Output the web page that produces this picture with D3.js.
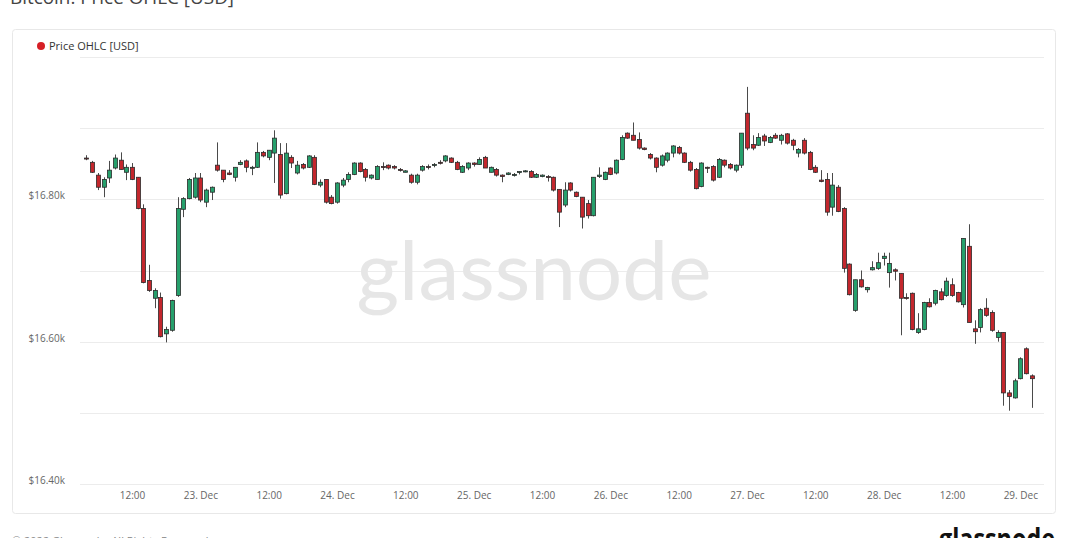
<!DOCTYPE html>
<html>
<head>
<meta charset="utf-8">
<script src="https://cdn.jsdelivr.net/npm/d3@7"></script>
<style>
  html, body { margin: 0; padding: 0; background: #ffffff; }
  svg { display: block; font-family: "Open Sans", "Noto Sans", "DejaVu Sans", sans-serif; }
</style>
</head>
<body>
<svg id="chart" width="1080" height="538"></svg>
<script>
// ---- DATA (hourly candles, 22 Dec 04:00 UTC -> 29 Dec 02:00 UTC) ----
const firstCandle = "2022-12-22T04:00:00Z";
const open = [
  16858,16852,16834,16817,16830,16844,16855,16838,16845,16831,
  16787,16686,16661,16662,16611,16616,16665,16786,16801,16803,
  16830,16796,16810,16848,16841,16837,16831,16849,16854,16844,
  16845,16866,16859,16865,16863,16808,16859,16837,16849,16845,
  16859,16820,16828,16803,16796,16820,16828,16835,16851,16842,
  16830,16828,16846,16848,16846,16842,16838,16834,16824,16841,
  16846,16848,16852,16854,16858,16852,16838,16844,16851,16849,
  16859,16838,16842,16834,16835,16834,16838,16839,16839,16831,
  16832,16832,16831,16814,16792,16823,16810,16803,16794,16777,
  16832,16828,16844,16837,16856,16893,16890,16884,16872,16863,
  16858,16848,16855,16865,16873,16865,16852,16842,16818,16845,
  16846,16831,16855,16849,16841,16848,16921,16877,16876,16889,
  16880,16890,16883,16892,16883,16865,16883,16866,16845,16827,
  16828,16789,16817,16787,16709,16644,16687,16673,16701,16703,
  16717,16697,16701,16696,16662,16668,16613,16617,16655,16654,
  16670,16665,16680,16669,16652,16734,16618,16620,16647,16641,
  16606,16613,16528,16521,16548,16590,16552
];
const high = [
  16862,16854,16837,16831,16854,16863,16866,16849,16851,16831,
  16793,16708,16675,16669,16621,16659,16803,16803,16830,16837,
  16837,16815,16818,16880,16841,16841,16845,16855,16856,16847,
  16880,16868,16869,16897,16879,16879,16862,16854,16851,16862,
  16862,16828,16828,16806,16824,16830,16838,16852,16852,16844,
  16835,16848,16852,16849,16848,16844,16841,16836,16836,16848,
  16849,16851,16855,16862,16859,16854,16848,16852,16852,16859,
  16861,16846,16844,16835,16838,16837,16839,16841,16841,16837,
  16835,16834,16832,16814,16824,16824,16811,16803,16799,16831,
  16845,16839,16845,16856,16890,16894,16908,16894,16873,16865,
  16859,16863,16866,16876,16875,16866,16854,16844,16852,16846,
  16848,16858,16856,16851,16849,16893,16958,16890,16893,16892,
  16889,16893,16892,16893,16885,16872,16886,16868,16848,16841,
  16837,16837,16820,16789,16710,16687,16700,16677,16713,16725,
  16725,16725,16703,16696,16668,16669,16640,16656,16661,16673,
  16675,16690,16689,16670,16745,16765,16630,16647,16661,16644,
  16616,16613,16532,16548,16578,16592,16554
];
const low = [
  16855,16837,16813,16803,16823,16842,16842,16827,16827,16786,
  16682,16670,16647,16606,16599,16614,16663,16775,16800,16801,
  16796,16789,16799,16839,16824,16834,16825,16848,16838,16834,
  16844,16859,16855,16823,16801,16807,16844,16835,16842,16844,
  16820,16817,16794,16793,16794,16817,16824,16834,16838,16825,
  16828,16828,16841,16842,16842,16839,16838,16822,16821,16839,
  16842,16845,16849,16852,16851,16841,16837,16841,16846,16849,
  16844,16838,16832,16824,16834,16832,16835,16838,16830,16830,
  16831,16825,16811,16761,16789,16811,16803,16759,16773,16776,
  16830,16827,16834,16835,16855,16885,16883,16870,16869,16856,
  16838,16846,16852,16859,16863,16851,16839,16814,16817,16837,
  16825,16830,16845,16842,16838,16844,16869,16869,16875,16875,
  16879,16885,16877,16877,16869,16859,16863,16841,16837,16824,
  16777,16777,16782,16697,16665,16642,16676,16669,16700,16701,
  16707,16676,16686,16609,16659,16616,16611,16616,16648,16651,
  16658,16663,16663,16655,16648,16627,16597,16613,16635,16614,
  16600,16510,16503,16520,16547,16554,16507
];
const close = [
  16857,16838,16817,16828,16841,16858,16842,16845,16828,16787,
  16683,16672,16672,16607,16617,16658,16787,16801,16828,16830,
  16799,16813,16817,16841,16828,16835,16845,16852,16845,16845,
  16866,16861,16869,16886,16806,16865,16851,16848,16844,16861,
  16821,16824,16796,16794,16823,16827,16835,16851,16839,16831,
  16834,16846,16845,16844,16844,16841,16840,16824,16834,16846,
  16845,16849,16851,16861,16852,16842,16846,16851,16849,16856,
  16844,16845,16834,16832,16837,16835,16839,16840,16831,16835,
  16834,16831,16813,16782,16813,16813,16804,16775,16777,16831,
  16834,16838,16835,16855,16887,16886,16883,16872,16870,16858,
  16845,16861,16865,16875,16865,16852,16841,16815,16851,16844,
  16827,16856,16848,16844,16848,16893,16872,16872,16887,16882,
  16887,16886,16890,16879,16876,16870,16865,16842,16838,16825,
  16782,16820,16783,16703,16666,16687,16677,16676,16704,16711,
  16720,16710,16699,16661,16661,16617,16618,16655,16649,16672,
  16659,16685,16665,16656,16745,16627,16614,16645,16637,16616,
  16613,16528,16523,16545,16576,16555,16548
];
const xTickTimes = [
  "2022-12-22T12:00:00Z","2022-12-23T00:00:00Z","2022-12-23T12:00:00Z","2022-12-24T00:00:00Z",
  "2022-12-24T12:00:00Z","2022-12-25T00:00:00Z","2022-12-25T12:00:00Z","2022-12-26T00:00:00Z",
  "2022-12-26T12:00:00Z","2022-12-27T00:00:00Z","2022-12-27T12:00:00Z","2022-12-28T00:00:00Z",
  "2022-12-28T12:00:00Z","2022-12-29T00:00:00Z"
];
const xTickLabels = ["12:00","23. Dec","12:00","24. Dec","12:00","25. Dec","12:00","26. Dec",
  "12:00","27. Dec","12:00","28. Dec","12:00","29. Dec"];
const yGridValues = [16400,16500,16600,16700,16800,16900,17000];
const yLabelValues = [16400,16600,16800];
const yLabelTexts = ["$16.40k","$16.60k","$16.80k"];

// ---- BUILD ----
const HOUR = 3600 * 1000;
const t0 = new Date(firstCandle).getTime();
const candles = open.map((o, i) => ({
  date: new Date(t0 + i * HOUR), o, h: high[i], l: low[i], c: close[i]
}));

const svg = d3.select("#chart");
const plotLeft = 80, plotRight = 1044;

// card
svg.append("rect").attr("x", 12.5).attr("y", 29.5).attr("width", 1043).attr("height", 484)
  .attr("rx", 3).attr("fill", "#fff").attr("stroke", "#e8e8e8");

// title (cut at the top, as in the source image)
svg.append("text").attr("x", 10).attr("y", 4).attr("font-size", 19).attr("fill", "#444")
  .attr("textLength", 224).attr("lengthAdjust", "spacingAndGlyphs")
  .text("Bitcoin: Price OHLC [USD]");

// scales
const x = d3.scaleUtc()
  .domain([new Date("2022-12-22T00:00:00Z"), new Date("2022-12-29T00:00:00Z")])
  .range([63.7, 1020.3]);
const y = d3.scaleLinear().domain([16400, 17000]).range([484, 57]);

// gridlines
svg.append("g").selectAll("line").data(yGridValues).join("line")
  .attr("x1", plotLeft).attr("x2", plotRight)
  .attr("y1", d => Math.round(y(d)) + 0.5).attr("y2", d => Math.round(y(d)) + 0.5)
  .attr("stroke", "#ececec").attr("stroke-width", 1);

// watermark
svg.append("text").attr("x", 534).attr("y", 300).attr("text-anchor", "middle")
  .attr("font-size", 82).attr("fill", "#e6e6e6")
  .attr("font-family", "Lato, 'Open Sans', sans-serif")
  .attr("textLength", 355).attr("lengthAdjust", "spacingAndGlyphs")
  .text("glassnode");

// y axis labels
const yAxis = d3.axisLeft(y).tickValues(yLabelValues)
  .tickFormat((d, i) => yLabelTexts[i]).tickSize(0).tickPadding(0);
const gy = svg.append("g").attr("transform", "translate(65,0)").call(yAxis);
gy.select(".domain").remove();
gy.selectAll("text").attr("font-size", 10).attr("fill", "#666")
  .attr("font-family", "'Open Sans', sans-serif").attr("dy", "-0.05em");

// x axis labels
const xAxis = d3.axisBottom(x).tickValues(xTickTimes.map(s => new Date(s)))
  .tickFormat((d, i) => xTickLabels[i]).tickSize(0).tickPadding(0);
const gx = svg.append("g").attr("transform", "translate(0,492)").call(xAxis);
gx.select(".domain").remove();
gx.selectAll("text").attr("font-size", 10).attr("fill", "#666")
  .attr("font-family", "'Open Sans', sans-serif");

// candles
const up = "#26a06c", down = "#c3272d", outline = "#2b2b2b";
const bodyW = 4;
const cg = svg.append("g").selectAll("g.c").data(candles).join("g").attr("class", "c");
cg.append("line")
  .attr("x1", d => Math.round(x(d.date)) + 0.5).attr("x2", d => Math.round(x(d.date)) + 0.5)
  .attr("y1", d => y(d.h)).attr("y2", d => y(d.l))
  .attr("stroke", "#4a4a4a").attr("stroke-width", 1);
cg.append("rect")
  .attr("x", d => Math.round(x(d.date)) + 0.5 - bodyW / 2)
  .attr("y", d => y(Math.max(d.o, d.c)))
  .attr("width", bodyW)
  .attr("height", d => Math.max(1, Math.abs(y(d.o) - y(d.c))))
  .attr("fill", d => d.c >= d.o ? up : down)
  .attr("stroke", outline).attr("stroke-width", 0.8);

// legend
svg.append("circle").attr("cx", 41).attr("cy", 46).attr("r", 4).attr("fill", "#d61f26");
svg.append("text").attr("x", 49).attr("y", 50).attr("font-size", 11).attr("fill", "#333")
  .text("Price OHLC [USD]");

// footer (cut at the bottom, as in the source image)
svg.append("text").attr("x", 12).attr("y", 545).attr("font-size", 11).attr("fill", "#888")
  .text("© 2022 Glassnode. All Rights Reserved.");
svg.append("text").attr("x", 1055).attr("y", 549).attr("text-anchor", "end")
  .attr("font-size", 28).attr("font-weight", 700).attr("fill", "#111")
  .attr("textLength", 116).attr("lengthAdjust", "spacingAndGlyphs")
  .text("glassnode");
</script>
</body>
</html>
